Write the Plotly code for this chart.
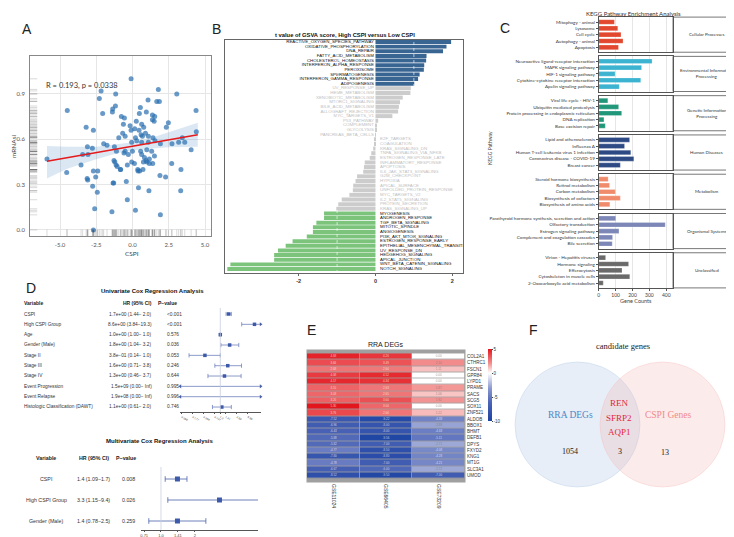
import plotly.graph_objects as go

W, H = 734, 537
def X(p): return p / W
def Y(p): return 1 - p / H

SANS = "Liberation Sans"
GEO = "Lato"
SERIF = "Liberation Serif"

# ---------------- Panel A data ----------------
a_cspi = [-0.1, 1.78, 3.05, -1.16, -2.17, -2.29, -4.5, -2.06, -1.37, -1.18, -1.39, 1.07, 1.67, 1.85, 4.38,
          0.54, 0.95, 0.47, 1.37, 1.53, -0.77, -0.56, 1.37, 1.49, 2.47, -3.2, -2.7, 0.63, -0.63, -0.17,
          0.26, 0.77, 2.33, 0.15, 0.45, -0.1, 0.59, 0.89, -0.68, -0.51, -0.95, 0.2, 0.29, 1.09, 0.68,
          1.41, 3.18, 3.6, 2.72, 3.43, 4.04, 4.4, -3.11, -2.77, -1.99, -1.76, -1.25, -0.06, 0.63, 1.09,
          1.55, 1.92, -3.44, -3.07, -5.9, -3.55, -1.11, -1.28, -1.22, -1.13, -1.06, -0.59, -0.51, -0.29,
          -0.01, -0.36, -0.82, -0.84, -0.06, 0.13, 0.56, 0.63, 0.82, 0.93, 1.16, 0.98, 1.32, 1.51, 0.75,
          1.0, 1.39, 1.16, 0.36, 0.49, 0.72, 0.38, -4.54, -2.7, -2.4, -3.13, -3.09, -2.54, -2.75, -2.43,
          -1.34, -1.3, -0.43, 0.41, 1.13, 1.89, 2.28, 2.7, 3.34, 3.32, -0.36, -2.61, -1.42, 0.2, 1.92, -2.7]
a_mrnasi = [1.0, 0.93, 0.90, 0.90, 0.92, 0.87, 0.79, 0.77, 0.80, 0.82, 0.78, 0.86, 0.85, 0.85, 0.79,
            0.81, 0.78, 0.77, 0.76, 0.75, 0.75, 0.74, 0.73, 0.72, 0.71, 0.68, 0.66, 0.70, 0.70, 0.69,
            0.72, 0.68, 0.68, 0.67, 0.66, 0.66, 0.63, 0.64, 0.64, 0.62, 0.61, 0.61, 0.59, 0.62, 0.62,
            0.61, 0.58, 0.58, 0.57, 0.61, 0.53, 0.65, 0.55, 0.54, 0.57, 0.56, 0.55, 0.58, 0.58, 0.58,
            0.59, 0.57, 0.50, 0.50, 0.47, 0.43, 0.52, 0.46, 0.45, 0.43, 0.42, 0.51, 0.52, 0.50,
            0.52, 0.43, 0.40, 0.40, 0.45, 0.44, 0.52, 0.50, 0.48, 0.46, 0.47, 0.53, 0.52, 0.49, 0.45,
            0.45, 0.44, 0.44, 0.40, 0.39, 0.40, 0.39, 0.38, 0.39, 0.39, 0.34, 0.33, 0.35, 0.29, 0.25,
            0.31, 0.31, 0.32, 0.28, 0.26, 0.36, 0.35, 0.44, 0.40, 0.26, 0.20, 0.14, 0.12, 0.13, 0.10, 0.0]
a_fit_x = [-5.9, 4.5]
a_fit_y = [0.455, 0.630]
a_band_x = [-5.9, -4.5, -2.5, -1.0, 0.0, 1.0, 2.5, 4.5]
a_band_lo = [0.34, 0.405, 0.468, 0.51, 0.525, 0.535, 0.548, 0.55]
a_band_hi = [0.555, 0.55, 0.55, 0.565, 0.58, 0.60, 0.645, 0.71]
a_xticks = [-5, -2.5, 0, 2.5, 5]
a_xticklabels = ["-5.0", "-2.5", "0.0", "2.5", "5.0"]
a_yticks = [0, 0.3, 0.6, 0.9]
a_yticklabels = ["0.0", "0.3", "0.6", "0.9"]

# ---------------- Panel B data ----------------
b_names = ["REACTIVE_OXYGEN_SPECIES_PATHWAY", "OXIDATIVE_PHOSPHORYLATION", "DNA_REPAIR", "FATTY_ACID_METABOLISM",
           "CHOLESTEROL_HOMEOSTASIS", "INTERFERON_ALPHA_RESPONSE", "PEROXISOME", "SPERMATOGENESIS",
           "INTERFERON_GAMMA_RESPONSE", "ADIPOGENESIS", "UV_RESPONSE_UP", "HEME_METABOLISM",
           "XENOBIOTIC_METABOLISM", "MTORC1_SIGNALING", "BILE_ACID_METABOLISM", "ALLOGRAFT_REJECTION",
           "MYC_TARGETS_V1", "P53_PATHWAY", "COMPLEMENT", "GLYCOLYSIS", "PANCREAS_BETA_CELLS",
           "E2F_TARGETS", "COAGULATION", "KRAS_SIGNALING_DN", "TNFA_SIGNALING_VIA_NFKB",
           "ESTROGEN_RESPONSE_LATE", "INFLAMMATORY_RESPONSE", "APOPTOSIS", "IL6_JAK_STAT3_SIGNALING",
           "G2M_CHECKPOINT", "HYPOXIA", "APICAL_SURFACE", "UNFOLDED_PROTEIN_RESPONSE", "MYC_TARGETS_V2",
           "IL2_STAT5_SIGNALING", "PROTEIN_SECRETION", "KRAS_SIGNALING_UP", "MYOGENESIS",
           "ANDROGEN_RESPONSE", "TGF_BETA_SIGNALING", "MITOTIC_SPINDLE", "ANGIOGENESIS",
           "PI3K_AKT_MTOR_SIGNALING", "ESTROGEN_RESPONSE_EARLY", "EPITHELIAL_MESENCHYMAL_TRANSITION",
           "UV_RESPONSE_DN", "HEDGEHOG_SIGNALING", "APICAL_JUNCTION", "WNT_BETA_CATENIN_SIGNALING",
           "NOTCH_SIGNALING"]
b_tvalues = [1.97, 1.85, 1.76, 1.33, 1.32, 1.27, 1.26, 1.15, 1.11, 1.01,
             0.92, 0.91, 0.71, 0.64, 0.61, 0.59, 0.44, 0.07, 0.03, 0.015, 0.008,
             -0.02, -0.03, -0.06, -0.11, -0.15, -0.28, -0.30, -0.32, -0.48, -0.52, -0.58, -0.59,
             -0.68, -0.88, -0.97, -1.02,
             -1.34, -1.34, -1.54, -1.63, -1.63, -1.79, -2.16, -2.34, -2.54, -2.64, -2.64, -3.78, -3.86]
b_xticks = [-2, 0, 2]

# ---------------- Panel C data ----------------
c_groups = ["Cellular Processes", "Environmental Information<br>Processing", "Genetic Information<br>Processing",
            "Human Diseases", "Metabolism", "Organismal Systems", "Unclassified"]
c_terms = [
    ["Mitophagy - animal", "Lysosome", "Cell cycle", "Autophagy - animal", "Apoptosis"],
    ["Neuroactive ligand-receptor interaction", "MAPK signaling pathway", "HIF-1 signaling pathway",
     "Cytokine-cytokine receptor interaction", "Apelin signaling pathway"],
    ["Viral life cycle - HIV-1", "Ubiquitin mediated proteolysis", "Protein processing in endoplasmic reticulum",
     "DNA replication", "Base excision repair"],
    ["Lipid and atherosclerosis", "Influenza A", "Human T-cell leukemia virus 1 infection",
     "Coronavirus disease - COVID-19", "Breast cancer"],
    ["Steroid hormone biosynthesis", "Retinol metabolism", "Carbon metabolism", "Biosynthesis of cofactors",
     "Biosynthesis of amino acids"],
    ["Parathyroid hormone synthesis, secretion and action", "Olfactory transduction", "Estrogen signaling pathway",
     "Complement and coagulation cascades", "Bile secretion"],
    ["Virion - Hepatitis viruses", "Hormone signaling", "Efferocytosis", "Cytoskeleton in muscle cells",
     "2-Oxocarboxylic acid metabolism"],
]
c_counts = [
    [93, 113, 132, 144, 117],
    [316, 254, 97, 249, 122],
    [54, 118, 136, 31, 39],
    [183, 153, 190, 208, 128],
    [56, 64, 99, 128, 66],
    [101, 394, 120, 82, 80],
    [41, 177, 138, 184, 27],
]
c_colors = ["#e2482f", "#3cb3d0", "#21977a", "#2d4a85", "#f08c6c", "#7c87b7", "#6a6a6a"]
c_xticks = [0, 100, 200, 300, 400]

# ---------------- Panel D data ----------------
u_vars = ["CSPI", "High CSPI Group", "Age", "Gender (Male)", "Stage II", "Stage III", "Stage IV",
          "Event Progression", "Event Relapse", "Histologic Classification (DAWT)"]
u_hr_text = ["1.7e+00 (1.44\u2212 2.0)", "8.6e+00 (3.84\u221219.3)", "1.0e+00 (1.00\u2212 1.0)",
             "1.8e+00 (1.04\u2212 3.2)", "3.8e\u221201 (0.14\u2212 1.0)", "1.6e+00 (0.71\u2212 3.8)",
             "1.3e+00 (0.46\u2212 3.7)", "1.5e+09 (0.00\u2212 Inf)", "1.9e+08 (0.00\u2212 Inf)",
             "1.1e+00 (0.61\u2212 2.0)"]
u_p_text = ["<0.001", "<0.001", "0.576", "0.036", "0.053", "0.246", "0.644", "0.995", "0.996", "0.746"]
u_hr = [1.7, 8.6, 1.0, 1.8, 0.38, 1.6, 1.3, 1.5e9, 1.9e8, 1.1]
u_lo = [1.44, 3.84, 1.00, 1.04, 0.14, 0.71, 0.46, 0.0, 0.0, 0.61]
u_hi = [2.0, 19.3, 1.0, 3.2, 1.0, 3.8, 3.7, float("inf"), float("inf"), 2.0]
u_ticks = [0.088, 0.177, 0.354, 0.707, 1.0, 1.41, 2.83, 5.66]

m_vars = ["CSPI", "High CSPI Group", "Gender (Male)"]
m_hr_text = ["1.4 (1.09\u22121.7)", "3.3 (1.15\u22129.4)", "1.4 (0.78\u22122.5)"]
m_p_text = ["0.008", "0.026", "0.259"]
m_hr = [1.4, 3.3, 1.4]
m_lo = [1.09, 1.15, 0.78]
m_hi = [1.7, 9.4, 2.5]
m_ticks = [0.71, 1.0, 1.41, 2.0]

# ---------------- Panel E data ----------------
e_genes = ["COL2A1", "CTHRC1", "FSCN1", "GPR84", "LYPD1", "PRAME", "SACS", "SCG5", "SOX11", "ZNF521",
           "ALDOB", "BBOX1", "BHMT", "DEFB1", "DPYS", "FXYD2", "KNG1", "MT1G", "SLC3A1", "UMOD"]
e_cols = ["GSE11024", "GSE66405", "GSE73209"]
e_vals = [
    [4.68, 4.20, 0.00], [3.66, 3.49, 2.10], [2.68, 2.60, 1.11], [4.08, 4.52, 0.00], [4.57, 4.34, 0.00],
    [3.10, 2.63, 1.87], [3.03, 2.65, 1.06], [3.20, 3.60, 1.92], [5.30, 3.00, 0.00], [3.76, 2.66, 1.22],
    [-7.52, -9.22, -4.38], [-6.96, -8.00, -2.88], [-6.43, -8.00, -4.68], [-5.88, -9.56, -5.11],
    [-5.82, -7.00, -2.71], [-4.77, -8.50, -4.08], [-7.80, -8.80, -4.28], [-4.78, -7.00, -4.21],
    [-6.67, -6.00, -2.72], [-8.52, -9.50, -7.00],
]
e_cbar_ticks = [5, 0, -5, -10]

# ---------------- Panel F data ----------------
f_sets = ["RRA DEGs", "CSPI Genes"]
f_counts = [1054, 3, 13]
f_shared = ["REN", "SFRP2", "AQP1"]

# =====================================================
fig = go.Figure()
anns, shapes = [], []
layout = dict(width=W, height=H, margin=dict(l=0, r=0, t=0, b=0), autosize=False,
              paper_bgcolor="white", plot_bgcolor="white", showlegend=False,
              font=dict(family=SANS, color="#222"))


def ax(domain, rng, **kw):
    d = dict(domain=domain, showgrid=False, zeroline=False, showline=False, ticks="",
             showticklabels=False, fixedrange=True)
    if rng is not None:
        d["range"] = rng
    d.update(kw)
    return d


def txt(x, y, s, size, color="#222", family=SANS, xanchor="center", yanchor="middle", bold=False, angle=0):
    anns.append(dict(x=X(x), y=Y(y), xref="paper", yref="paper", text=("<b>%s</b>" % s if bold else s),
                     showarrow=False, font=dict(size=size, color=color, family=family),
                     xanchor=xanchor, yanchor=yanchor, textangle=angle, borderpad=0))


# ---------------- Panel A ----------------
layout["xaxis"] = ax([X(22), X(203)], [-7.07, 5.41], anchor="y", showgrid=True, gridcolor="#e6e6e6",
                     gridwidth=0.8, tickvals=a_xticks, ticktext=a_xticklabels, showticklabels=True,
                     tickfont=dict(size=6, color="#555", family=GEO), showline=True, mirror=True,
                     linecolor="#888", linewidth=0.8, ticklabelstandoff=3)
layout["yaxis"] = ax([Y(228), Y(48)], [-0.04, 1.151], anchor="x", showgrid=True, gridcolor="#e6e6e6",
                     gridwidth=0.8, tickvals=a_yticks, ticktext=a_yticklabels, showticklabels=True,
                     tickfont=dict(size=6, color="#555", family=GEO), showline=True, mirror=True,
                     linecolor="#888", linewidth=0.8, ticklabelstandoff=3)
fig.add_trace(go.Scatter(x=a_band_x + a_band_x[::-1], y=a_band_hi + a_band_lo[::-1], fill="toself",
                         fillcolor="rgba(90,150,200,0.22)", line=dict(width=0), mode="lines",
                         xaxis="x", yaxis="y", hoverinfo="skip"))
fig.add_trace(go.Scatter(x=a_cspi, y=a_mrnasi, mode="markers", xaxis="x", yaxis="y",
                         marker=dict(size=5, color="rgba(40,110,175,0.7)", line=dict(width=0))))
fig.add_trace(go.Scatter(x=a_fit_x, y=a_fit_y, mode="lines", line=dict(color="#e41a1c", width=1.5),
                         xaxis="x", yaxis="y"))
fig.add_trace(go.Scatter(x=[-6.86] * len(a_mrnasi), y=a_mrnasi, mode="markers", xaxis="x", yaxis="y",
                         marker=dict(symbol="line-ew", size=6, line=dict(width=0.6, color="rgba(0,0,0,0.25)"))))
fig.add_trace(go.Scatter(x=a_cspi, y=[-0.03] * len(a_cspi), mode="markers", xaxis="x", yaxis="y",
                         marker=dict(symbol="line-ns", size=7, line=dict(width=0.6, color="rgba(0,0,0,0.25)"))))
txt(19, 21, "A", 14)
txt(37, 77, "R = 0.193, p = 0.0338", 7.5, color="#333", family=GEO, xanchor="left")
txt(124, 245, "CSPI", 6.5, color="#444", family=GEO)
txt(5, 138, "mRNAsi", 6.5, color="#444", family=GEO, angle=-90)

# ---------------- Panel B ----------------
nb = len(b_names)
b_y = list(range(1, nb + 1))
b_col, b_txtcol = [], []
for i, v in enumerate(b_tvalues):
    if v >= 1:
        b_col.append("#386592"); b_txtcol.append("#111")
    elif v <= -1.1:
        b_col.append("#7cc47c"); b_txtcol.append("#111")
    else:
        b_col.append("#cccccc"); b_txtcol.append("#c0c0c0")
layout["xaxis2"] = ax([X(217), X(455)], [-3.92, 2.28], anchor="y2", showline=True, mirror=True,
                      linecolor="#666", linewidth=0.8, tickvals=b_xticks,
                      ticktext=["<b>%d</b>" % t for t in b_xticks], showticklabels=True,
                      tickfont=dict(size=5.5, color="#333"), ticks="outside", ticklen=2, tickcolor="#666")
layout["yaxis2"] = ax([Y(265), Y(32)], [50.86, 0.57], anchor="x2", showline=True, mirror=True,
                      linecolor="#666", linewidth=0.8)
fig.add_trace(go.Bar(x=b_tvalues, y=b_y, orientation="h", width=0.86, marker=dict(color=b_col, line=dict(width=0)),
                     xaxis="x2", yaxis="y2"))
pos_i = [i for i, v in enumerate(b_tvalues) if v >= 0]
neg_i = [i for i, v in enumerate(b_tvalues) if v < 0]
fig.add_trace(go.Scatter(x=[-0.04] * len(pos_i), y=[b_y[i] for i in pos_i], text=[b_names[i] for i in pos_i],
                         mode="text", textposition="middle left", cliponaxis=True,
                         textfont=dict(size=4.4, color=[b_txtcol[i] for i in pos_i], family=SANS),
                         xaxis="x2", yaxis="y2"))
fig.add_trace(go.Scatter(x=[0.12] * len(neg_i), y=[b_y[i] for i in neg_i], text=[b_names[i] for i in neg_i],
                         mode="text", textposition="middle right", cliponaxis=True,
                         textfont=dict(size=4.4, color=[b_txtcol[i] for i in neg_i], family=SANS),
                         xaxis="x2", yaxis="y2"))
for xv in (-1, 1):
    shapes.append(dict(type="line", xref="x2", yref="paper", x0=xv, x1=xv, y0=Y(265), y1=Y(32),
                       line=dict(color="rgba(255,255,255,0.9)", width=0.7, dash="dot"), layer="above"))
txt(208, 21, "B", 14)
txt(337, 27, "t value of GSVA score, High CSPI versus Low CSPI", 5.8, color="#111", bold=True)

# ---------------- Panel C ----------------
for k in range(7):
    n = 3 + k
    first = 14 + 39.28 * k
    top, bot = first - 4.9, first + 4 * 6.33 + 4.9
    last = (k == 6)
    layout["xaxis%d" % n] = ax([X(590.7), X(665)], [0, 440], anchor="y%d" % n, showgrid=True,
                               gridcolor="#e6e6e6", gridwidth=0.7, tickvals=c_xticks,
                               showticklabels=last, ticks="outside" if last else "", ticklen=2,
                               tickcolor="#555", tickfont=dict(size=5, color="#444", family=GEO),
                               showline=True, mirror=True, linecolor="#555", linewidth=0.8)
    layout["yaxis%d" % n] = ax([Y(bot), Y(top)], [4 + 4.9 / 6.33, -4.9 / 6.33], anchor="x%d" % n,
                               tickvals=list(range(5)), ticktext=c_terms[k], showticklabels=True,
                               ticks="outside", ticklen=2, tickcolor="#555",
                               tickfont=dict(size=4.6, color="#333", family=GEO),
                               showline=True, mirror=True, linecolor="#555", linewidth=0.8)
    fig.add_trace(go.Bar(x=c_counts[k], y=list(range(5)), orientation="h", width=0.74,
                         marker=dict(color=c_colors[k], line=dict(width=0.4, color="rgba(255,255,255,0.6)")),
                         xaxis="x%d" % n, yaxis="y%d" % n))
    shapes.append(dict(type="rect", xref="paper", yref="paper", x0=X(665), x1=X(733), y0=Y(bot), y1=Y(top),
                       line=dict(color="#555", width=0.8)))
    txt(698.5, (top + bot) / 2, c_groups[k], 4.5, color="#333", family=GEO)
txt(497, 20, "C", 14)
txt(625, 5, "KEGG Pathway Enrichment Analysis", 6, color="#333", family=GEO)
txt(482, 140, "KEGG Pathway", 5, color="#444", family=GEO, angle=-90)
txt(627.5, 293, "Gene Counts", 5.5, color="#444", family=GEO)

# ---------------- Panel D (univariate) ----------------
txt(23, 280, "D", 14)
txt(144.5, 283, "Univariate Cox Regression Analysis", 6, color="#111", bold=True)
txt(15, 295, "Variable", 5, bold=True, xanchor="left")
txt(145, 295, "HR (95% CI)", 5, bold=True, xanchor="right")
txt(149, 295, "P\u2212value", 5, bold=True, xanchor="left")
u_rows_y = [306 + 10.33 * i for i in range(len(u_vars))]
for i in range(len(u_vars)):
    txt(15, u_rows_y[i], u_vars[i], 4.8, color="#333", xanchor="left")
    txt(145, u_rows_y[i], u_hr_text[i], 4.8, color="#333", xanchor="right")
    txt(158, u_rows_y[i], u_p_text[i], 4.8, color="#333", xanchor="left")

u_min, u_max = 10 ** -1.101, 10 ** 1.112
layout["xaxis10"] = ax([X(172), X(253)], [-1.101, 1.112], type="log", anchor="y10", showline=True,
                       linecolor="#555", linewidth=0.6, tickvals=u_ticks, ticktext=[str(t) for t in u_ticks],
                       showticklabels=True, ticks="outside", ticklen=1.5, tickcolor="#555",
                       tickfont=dict(size=2.8, color="#444"))
layout["yaxis10"] = ax([Y(404), Y(300)], [9.48, -0.58], anchor="x10")
shapes.append(dict(type="line", xref="x10", yref="paper", x0=1, x1=1, y0=Y(404), y1=Y(300),
                   line=dict(color="#c8cede", width=0.8)))
lx, ly, capx, capy, la_x, la_y, ra_x, ra_y = [], [], [], [], [], [], [], []
for i in range(len(u_vars)):
    lo = max(u_lo[i], u_min * 1.02)
    hi = min(u_hi[i], u_max * 0.98)
    lx += [lo, hi, None]; ly += [i, i, None]
    if u_lo[i] < u_min:
        la_x.append(lo); la_y.append(i)
    else:
        capx.append(lo); capy.append(i)
    if u_hi[i] > u_max:
        ra_x.append(hi); ra_y.append(i)
    else:
        capx.append(hi); capy.append(i)
fig.add_trace(go.Scatter(x=lx, y=ly, mode="lines", line=dict(color="#6f82bd", width=0.8),
                         xaxis="x10", yaxis="y10", cliponaxis=False))
fig.add_trace(go.Scatter(x=capx, y=capy, mode="markers", xaxis="x10", yaxis="y10",
                         marker=dict(symbol="line-ns", size=3, line=dict(width=0.8, color="#6f82bd"))))
fig.add_trace(go.Scatter(x=la_x, y=la_y, mode="markers", xaxis="x10", yaxis="y10", cliponaxis=False,
                         marker=dict(symbol="triangle-left", size=3.5, color="#4a5fa5")))
fig.add_trace(go.Scatter(x=ra_x, y=ra_y, mode="markers", xaxis="x10", yaxis="y10", cliponaxis=False,
                         marker=dict(symbol="triangle-right", size=3.5, color="#4a5fa5")))
pts = [(u_hr[i], i) for i in range(len(u_vars)) if u_hr[i] < u_max]
fig.add_trace(go.Scatter(x=[p[0] for p in pts], y=[p[1] for p in pts], mode="markers", xaxis="x10",
                         yaxis="y10", marker=dict(symbol="square", size=3.5, color="#3d5aa8")))

# ---------------- Panel D (multivariate) ----------------
txt(151.5, 433, "Multivariate Cox Regression Analysis", 6, color="#111", bold=True)
txt(38, 450, "Variable", 5.3, bold=True)
txt(86, 450, "HR (95% CI)", 5.3, bold=True)
txt(118, 450, "P\u2212value", 5.3, bold=True)
m_rows_y = [471, 492, 513]
for i in range(len(m_vars)):
    txt(38, m_rows_y[i], m_vars[i], 5.3, color="#333")
    txt(85, m_rows_y[i], m_hr_text[i], 5.3, color="#333")
    txt(120, m_rows_y[i], m_p_text[i], 5.3, color="#333")
m_lmin, m_lmax = -0.177, 0.86
layout["xaxis11"] = ax([X(133), X(250)], [m_lmin, m_lmax], type="log", anchor="y11", showline=True,
                       linecolor="#555", linewidth=0.6, tickvals=m_ticks,
                       ticktext=["%g" % t if t != 1 else "1.0" for t in m_ticks],
                       showticklabels=True, ticks="outside", ticklen=1, tickcolor="#555",
                       tickfont=dict(size=4, color="#444"), ticklabelstandoff=0)
layout["yaxis11"] = ax([Y(522), Y(459)], [2 + 9 / 21, -12 / 21], anchor="x11")
shapes.append(dict(type="line", xref="x11", yref="paper", x0=1, x1=1, y0=Y(522), y1=Y(459),
                   line=dict(color="#c8cede", width=0.8)))
mm = 10 ** m_lmax
mx, my, mcx, mcy = [], [], [], []
for i in range(len(m_vars)):
    hi = min(m_hi[i], mm * 1.05)
    mx += [m_lo[i], hi, None]; my += [i, i, None]
    mcx.append(m_lo[i]); mcy.append(i)
    if m_hi[i] <= mm:
        mcx.append(m_hi[i]); mcy.append(i)
fig.add_trace(go.Scatter(x=mx, y=my, mode="lines", line=dict(color="#4a63ab", width=0.8),
                         xaxis="x11", yaxis="y11", cliponaxis=True))
fig.add_trace(go.Scatter(x=mcx, y=mcy, mode="markers", xaxis="x11", yaxis="y11",
                         marker=dict(symbol="line-ns", size=4, line=dict(width=0.8, color="#4a63ab"))))
fig.add_trace(go.Scatter(x=m_hr, y=list(range(len(m_vars))), mode="markers", xaxis="x11", yaxis="y11",
                         marker=dict(symbol="square", size=5, color="#3d5aa8")))

# ---------------- Panel E ----------------
txt(303, 322, "E", 14)
txt(378, 336, "RRA DEGs", 7, color="#222")
layout["xaxis12"] = ax([X(299), X(457)], None, anchor="y12", showticklabels=True, tickangle=90,
                       tickfont=dict(size=5, color="#333"), side="bottom", ticklabelstandoff=1)
layout["yaxis12"] = ax([Y(474), Y(342)], None, anchor="x12", autorange="reversed", showticklabels=True,
                       side="right", tickfont=dict(size=4.5, color="#333"), ticklabelstandoff=1)
shapes.append(dict(type="rect", xref="paper", yref="paper", x0=X(298.5), x1=X(457.5), y0=Y(474.5), y1=Y(341.5),
                   fillcolor="#a0a0a0", line=dict(width=0), layer="below"))
e_scale = [[0, "#1c43a3"], [0.25, "#4a63b5"], [0.45, "#8a97cf"], [0.6667, "#ffffff"], [0.8, "#f29090"],
           [1, "#e3161e"]]
fig.add_trace(go.Heatmap(z=e_vals, x=e_cols, y=e_genes, zmin=-10, zmax=5, colorscale=e_scale, xgap=0.8, ygap=0.8,
                         xaxis="x12", yaxis="y12",
                         colorbar=dict(x=X(480), xanchor="left", y=Y(377), yanchor="middle", len=72 / H,
                                       lenmode="fraction", thickness=4, thicknessmode="pixels", outlinewidth=0,
                                       tickvals=e_cbar_ticks, ticktext=[str(t) for t in e_cbar_ticks],
                                       tickfont=dict(size=4.5, color="#333"), ticks="outside", ticklen=1,
                                       xpad=0, ypad=0)))
tx, ty, tt, tc = [], [], [], []
for r, g in enumerate(e_genes):
    for c, col in enumerate(e_cols):
        v = e_vals[r][c]
        tx.append(col); ty.append(g); tt.append("%.2f" % v)
        tc.append("rgba(255,255,255,0.7)" if (v >= 2.5 or v <= -4) else "rgba(120,120,120,0.8)")
fig.add_trace(go.Scatter(x=tx, y=ty, text=tt, mode="text", textfont=dict(size=3, color=tc),
                         xaxis="x12", yaxis="y12"))

# ---------------- Panel F ----------------
txt(525, 322, "F", 14)
txt(615, 338, "candidate genes", 8.5, color="#222", family=SERIF)
shapes.append(dict(type="circle", xref="paper", yref="paper", x0=X(507), x1=X(632), y0=Y(479), y1=Y(354),
                   fillcolor="rgba(175,198,230,0.3)", line=dict(color="rgba(175,198,230,0.45)", width=0.8)))
shapes.append(dict(type="circle", xref="paper", yref="paper", x0=X(592), x1=X(717), y0=Y(479), y1=Y(354),
                   fillcolor="rgba(245,178,178,0.26)", line=dict(color="rgba(245,178,178,0.4)", width=0.8)))
txt(562, 407, f_sets[0], 9.5, color="#4f86c6", family=SERIF)
txt(660, 407, f_sets[1], 9.5, color="#f08a8a", family=SERIF)
for j, gname in enumerate(f_shared):
    txt(611, 395 + 14.5 * j, gname, 9, color="#e3263a", family=SERIF)
txt(562, 443, str(f_counts[0]), 8, color="#222", family=SERIF)
txt(612, 443, str(f_counts[1]), 8, color="#222", family=SERIF)
txt(657, 444, str(f_counts[2]), 8, color="#222", family=SERIF)

layout["annotations"] = anns
layout["shapes"] = shapes
fig.update_layout(**layout)
fig.write_html("out.html")
